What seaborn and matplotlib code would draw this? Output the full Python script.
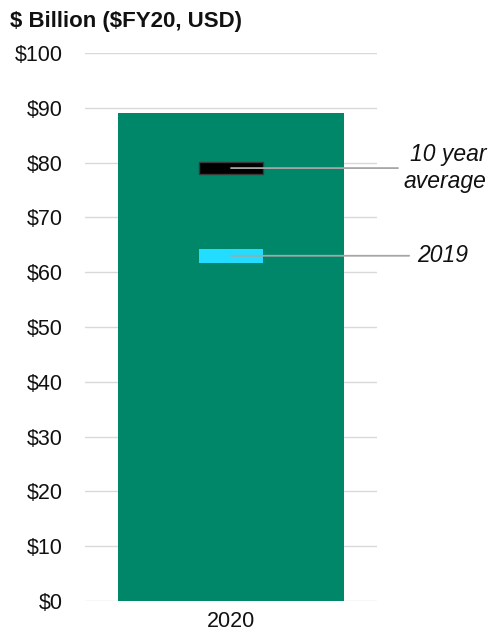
import matplotlib
matplotlib.use("Agg")
import matplotlib.pyplot as plt
import seaborn as sns
import pandas as pd

# Data
years = ["2020"]
values_2020 = [89]
avg_10yr = 79
val_2019 = 63
y_ticks = [0, 10, 20, 30, 40, 50, 60, 70, 80, 90, 100]
y_tick_labels = ["$" + str(v) for v in y_ticks]
title = "$ Billion ($FY20, USD)"
label_avg = "10 year\naverage"
label_2019 = "2019"

sns.set_theme(style="white")
plt.rcParams["font.family"] = ["Liberation Sans", "DejaVu Sans"]

fig = plt.figure(figsize=(4.91, 6.37), dpi=100)
ax = fig.add_axes([85/491, 1-601/637, 292/491, 548/637])

df = pd.DataFrame({"year": years, "value": values_2020})
sns.barplot(data=df, x="year", y="value", color="#00876A", saturation=1,
            width=0.774, ax=ax, edgecolor="none")

ax.bar([0], [2.2], bottom=[avg_10yr - 1.1], width=0.216, color="#000000",
       edgecolor="#3A3A3A", linewidth=1, zorder=3)
ax.bar([0], [2.5], bottom=[val_2019 - 1.25], width=0.216, color="#22DDFF",
       edgecolor="none", zorder=3)

ax.annotate("", xy=(0, avg_10yr), xytext=(1.072, avg_10yr),
            textcoords=("axes fraction", "data"),
            arrowprops=dict(arrowstyle="-", color="#A6A6A6", lw=1.3,
                            shrinkA=0, shrinkB=0), annotation_clip=False, zorder=4)
ax.annotate("", xy=(0, val_2019), xytext=(1.11, val_2019),
            textcoords=("axes fraction", "data"),
            arrowprops=dict(arrowstyle="-", color="#A6A6A6", lw=1.3,
                            shrinkA=0, shrinkB=0), annotation_clip=False, zorder=4)
ax.text(1.375, avg_10yr, label_avg, transform=ax.get_yaxis_transform(),
        ha="right", va="center", fontsize=16.5, style="italic",
        color="#111111", linespacing=1.2, multialignment="right")
ax.text(1.138, val_2019, label_2019, transform=ax.get_yaxis_transform(),
        ha="left", va="center", fontsize=16.5, style="italic", color="#111111")

ax.set_ylim(0, 100)
ax.set_xlim(-0.5, 0.5)
ax.set_yticks(y_ticks)
ax.set_yticklabels(y_tick_labels)
ax.yaxis.grid(True, color="#D9D9D9", linewidth=1)
ax.set_axisbelow(True)
for s in ax.spines.values():
    s.set_visible(False)
ax.tick_params(axis="y", length=0, pad=16, labelsize=15.5, labelcolor="#111111")
ax.tick_params(axis="x", length=0, pad=7, labelsize=15.5, labelcolor="#111111")
ax.set_xlabel("")
ax.set_ylabel("")

fig.text(10/491, 1-22/637, title, ha="left", va="center", fontsize=16,
         fontweight="bold", color="#111111", parse_math=False)

fig.savefig("out.png", dpi=100)
